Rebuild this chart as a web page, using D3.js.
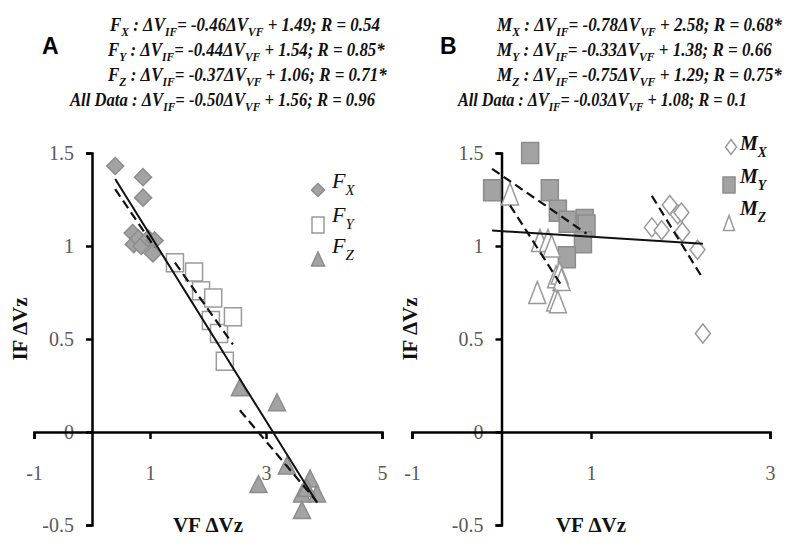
<!DOCTYPE html>
<html><head><meta charset="utf-8">
<script src="https://cdn.jsdelivr.net/npm/d3@7"></script>
<style>body{margin:0;background:#fff}</style>
</head><body><svg id="c" width="800" height="546"></svg>
<script>
// ---- Data (panel A: F groups) ----
const fxX = [0.40, 0.88, 0.88, 0.70, 0.72, 0.80, 0.85, 0.97, 1.08, 1.05];
const fxY = [1.43, 1.37, 1.26, 1.07, 1.01, 1.04, 1.00, 1.04, 1.03, 0.96];
const fyX = [1.43, 1.76, 1.88, 2.09, 2.05, 2.19, 2.43, 2.29];
const fyY = [0.91, 0.86, 0.76, 0.72, 0.60, 0.53, 0.62, 0.38];
const fzX = [2.55, 3.19, 2.87, 3.36, 3.62, 3.62, 3.76, 3.88, 3.70];
const fzY = [0.24, 0.16, -0.28, -0.18, -0.33, -0.42, -0.25, -0.33, -0.30];
// ---- Data (panel B: M groups) ----
const mxX = [1.68, 1.79, 1.88, 1.97, 2.01, 2.02, 2.19, 2.25];
const mxY = [1.10, 1.085, 1.22, 1.17, 1.18, 1.075, 0.98, 0.53];
const myX = [-0.105, 0.32, 0.54, 0.63, 0.74, 0.93, 0.95, 0.91, 0.73];
const myY = [1.30, 1.50, 1.30, 1.19, 1.13, 1.14, 1.11, 1.02, 0.94];
const mzX = [0.095, 0.43, 0.52, 0.56, 0.61, 0.65, 0.67, 0.40, 0.60, 0.63];
const mzY = [1.28, 1.03, 1.03, 1.00, 0.835, 0.855, 0.82, 0.75, 0.71, 0.70];
// ---- Regression equations (X, Y, Z, All Data) ----
const fNames = ["X", "Y", "Z", "All Data"];
const fSlopes = [-0.46, -0.44, -0.37, -0.50];
const fIntercepts = [1.49, 1.54, 1.06, 1.56];
const fR = ["0.54", "0.85*", "0.71*", "0.96"];
const mNames = ["X", "Y", "Z", "All Data"];
const mSlopes = [-0.78, -0.33, -0.75, -0.03];
const mIntercepts = [2.58, 1.38, 1.29, 1.08];
const mR = ["0.68*", "0.66", "0.75*", "0.1"];
// ---- Tick labels ----
const yTicks = [-0.5, 0, 0.5, 1, 1.5];
const xTicksA = [-1, 1, 3, 5];
const xTicksB = [-1, 1, 3];

const svg = d3.select("#c");
const SERIF = "'Liberation Serif','Times New Roman',serif";
const yS = d3.scaleLinear().domain([-0.5, 1.5]).range([525, 153]);
const xA = d3.scaleLinear().domain([-1, 5]).range([34, 382]);
const xB = d3.scaleLinear().domain([-1, 3]).range([412, 770]);

const GRAYF = "#a3a3a3", GRAYS = "#8c8c8c", OPEN = "#9a9a9a";

function shapePath(type, w, h) {
  const a = w / 2, b = h / 2;
  if (type === "diamond") return `M0,${-b}L${a},0L0,${b}L${-a},0Z`;
  if (type === "square") return `M${-a},${-b}H${a}V${b}H${-a}Z`;
  return `M0,${-b}L${a},${b}L${-a},${b}Z`;
}

function drawAxes(x, xTicks) {
  const g = svg.append("g");
  const ya = d3.axisLeft(yS).tickValues(yTicks).tickSize(6).tickSizeOuter(6).tickPadding(12)
    .tickFormat(d => String(d));
  const yg = g.append("g").attr("transform", `translate(${x(0)},0)`).call(ya);
  const xa = d3.axisBottom(x).tickValues(xTicks).tickSize(7).tickSizeOuter(7).tickPadding(27)
    .tickFormat(d => String(d));
  const xg = g.append("g").attr("transform", `translate(0,${yS(0)})`).call(xa);
  [yg, xg].forEach(a => {
    a.selectAll("path,line").attr("stroke", "#000").attr("stroke-width", 2.5);
    a.selectAll("text").attr("font-family", SERIF).attr("font-size", 20).attr("fill", "#5a5a5a");
  });
}

function drawPoints(x, xs, ys, type, w, h, filled) {
  svg.append("g").selectAll("path").data(xs.map((v, i) => [v, ys[i]])).join("path")
    .attr("d", shapePath(type, w, h))
    .attr("transform", d => `translate(${x(d[0])},${yS(d[1])})`)
    .attr("fill", filled ? GRAYF : "#fff")
    .attr("stroke", filled ? GRAYS : OPEN)
    .attr("stroke-width", 1.5);
}

function drawFit(x, xs, slope, icpt, dashed) {
  const x0 = d3.min(xs), x1 = d3.max(xs);
  svg.append("line")
    .attr("x1", x(x0)).attr("y1", yS(slope * x0 + icpt))
    .attr("x2", x(x1)).attr("y2", yS(slope * x1 + icpt))
    .attr("stroke", "#111").attr("stroke-width", dashed ? 2.2 : 2)
    .attr("stroke-dasharray", dashed ? "9,5" : null);
}

function eqLine(letter, name, slope, icpt, r, x0, base, targetW) {
  const t = svg.append("text").attr("font-family", SERIF).attr("font-weight", "bold")
    .attr("font-style", "italic").attr("font-size", 19).attr("fill", "#111");
  const parts = [];
  if (name === "All Data") parts.push(["All Data : ", false]);
  else { parts.push([letter, false]); parts.push([name, true]); parts.push([" : ", false]); }
  parts.push(["\u0394V", false]); parts.push(["IF", true]);
  parts.push(["= " + slope.toFixed(2) + "\u0394V", false]); parts.push(["VF", true]);
  parts.push([" + " + icpt.toFixed(2) + "; R = " + r, false]);
  let shifted = false;
  parts.forEach(([s, sub]) => {
    const ts = t.append("tspan").text(s);
    if (sub) { ts.attr("font-size", 13); if (!shifted) ts.attr("dy", 5); shifted = true; }
    else if (shifted) { ts.attr("dy", -5); shifted = false; }
  });
  const w = t.node().getComputedTextLength();
  t.attr("transform", `translate(${x0},${base}) scale(${targetW / w},1)`);
}

function legendItem(type, w, h, filled, cx, cy, letter, sub, tx, base, bold, fs) {
  svg.append("path").attr("d", shapePath(type, w, h)).attr("transform", `translate(${cx},${cy})`)
    .attr("fill", filled ? GRAYF : "#fff").attr("stroke", filled ? GRAYS : OPEN).attr("stroke-width", 1.5);
  const t = svg.append("text").attr("x", tx).attr("y", base).attr("font-family", SERIF)
    .attr("font-style", "italic").attr("font-weight", bold ? "bold" : "normal").attr("font-size", fs).attr("fill", "#111");
  t.append("tspan").text(letter);
  t.append("tspan").text(sub).attr("font-size", fs * 0.68).attr("dy", 7);
}

// ---- Panel A ----
drawAxes(xA, xTicksA);
drawPoints(xA, fxX, fxY, "diamond", 17, 17, true);
drawPoints(xA, fyX, fyY, "square", 17, 18, false);
drawPoints(xA, fzX, fzY, "triangle", 17, 17, true);
drawFit(xA, fxX, fSlopes[0], fIntercepts[0], true);
drawFit(xA, fyX, fSlopes[1], fIntercepts[1], true);
drawFit(xA, fzX, fSlopes[2], fIntercepts[2], true);
drawFit(xA, fxX.concat(fyX, fzX), fSlopes[3], fIntercepts[3], false);

// ---- Panel B ----
drawAxes(xB, xTicksB);
drawPoints(xB, mxX, mxY, "diamond", 15, 19, false);
drawPoints(xB, myX, myY, "square", 17, 21, true);
drawPoints(xB, mzX, mzY, "triangle", 17, 22, false);
drawFit(xB, mxX, mSlopes[0], mIntercepts[0], true);
drawFit(xB, myX, mSlopes[1], mIntercepts[1], true);
drawFit(xB, mzX, mSlopes[2], mIntercepts[2], true);
drawFit(xB, mxX.concat(myX, mzX), mSlopes[3], mIntercepts[3], false);

// ---- Equations ----
const eqBase = [31, 56, 81, 106];
const fStart = [110, 108, 108, 70], fW = [270, 277, 279, 305];
const mStart = [497, 497, 497, 458], mW = [285, 275, 285, 289];
fNames.forEach((n, i) => eqLine("F", n, fSlopes[i], fIntercepts[i], fR[i], fStart[i], eqBase[i], fW[i]));
mNames.forEach((n, i) => eqLine("M", n, mSlopes[i], mIntercepts[i], mR[i], mStart[i], eqBase[i], mW[i]));

// ---- Panel letters ----
[["A", 42], ["B", 440]].forEach(([s, x]) => svg.append("text").attr("x", x).attr("y", 54).text(s)
  .attr("font-family", "'Liberation Sans',Arial,sans-serif").attr("font-weight", "bold").attr("font-size", 23));

// ---- Axis titles ----
[22, 412].forEach(x => svg.append("text").attr("transform", `translate(${x},329) rotate(-90)`)
  .attr("text-anchor", "middle").attr("dominant-baseline", "middle").attr("font-family", SERIF)
  .attr("font-weight", "bold").attr("font-size", 21).attr("fill", "#111").text("IF \u0394Vz"));
[208, 591].forEach(x => svg.append("text").attr("x", x).attr("y", 532).attr("text-anchor", "middle")
  .attr("font-family", SERIF).attr("font-weight", "bold").attr("font-size", 21).attr("fill", "#111").text("VF \u0394Vz"));

// ---- Legends ----
legendItem("diamond", 13, 13, true, 318, 190, "F", "X", 332, 188, false, 22);
legendItem("square", 12, 16, false, 318, 225, "F", "Y", 332, 222, false, 22);
legendItem("triangle", 13, 14, true, 318, 259, "F", "Z", 332, 253, false, 22);
legendItem("diamond", 11, 15, false, 731, 147, "M", "X", 740, 150, true, 20);
legendItem("square", 12, 16, true, 729, 185, "M", "Y", 740, 183, true, 20);
legendItem("triangle", 11, 15, false, 729, 223, "M", "Z", 740, 215, true, 20);
</script></body></html>
